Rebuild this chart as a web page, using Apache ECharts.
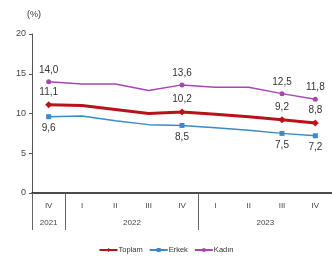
<!DOCTYPE html>
<html>
<head>
<meta charset="utf-8">
<script src="https://cdn.jsdelivr.net/npm/echarts@6/dist/echarts.min.js"></script>
<style>
  html, body { margin: 0; padding: 0; background: #fff; }
  #chart { width: 332px; height: 260px; }
</style>
</head>
<body>
<div id="chart"></div>
<script>
// quarters and years
var quarters = ["IV", "I", "II", "III", "IV", "I", "II", "III", "IV"];
var years = ["2021", "2022", "2023"];
var yearCenters = [0.5, 3, 7];
var yearBounds = [0, 1, 5, 9];

// series values (%)
var toplam = [11.1, 11.0, 10.5, 10.0, 10.2, 9.9, 9.6, 9.2, 8.8];
var erkek = [9.6, 9.7, 9.1, 8.6, 8.5, 8.2, 7.9, 7.5, 7.2];
var kadin = [14.0, 13.7, 13.7, 12.9, 13.6, 13.3, 13.3, 12.5, 11.8];

// points that carry a marker and a label
var marked = [0, 4, 7, 8];

var font = "'Liberation Sans Narrow', 'Liberation Sans', Arial, sans-serif";

function comma(v) {
  return v.toFixed(1).replace(".", ",");
}

function buildData(vals) {
  return vals.map(function (v, i) {
    var on = marked.indexOf(i) >= 0;
    return {
      value: v,
      symbolSize: on ? undefined : 0,
      label: { show: on }
    };
  });
}

function makeSeries(name, vals, color, symbol, size, width, pos) {
  return {
    name: name,
    type: "line",
    data: buildData(vals),
    symbol: symbol,
    symbolSize: size,
    showAllSymbol: true,
    color: color,
    lineStyle: { color: color, width: width },
    itemStyle: { color: color },
    label: {
      position: pos,
      distance: 4,
      color: "#333",
      fontSize: 10,
      fontFamily: font,
      formatter: function (p) { return comma(p.value); }
    },
    animation: false
  };
}

var chart = echarts.init(document.getElementById("chart"));
chart.setOption({
  backgroundColor: "#fff",
  grid: { left: 32, right: 0, top: 34, bottom: 67 },
  graphic: [{
    type: "text", left: 27, top: 10,
    style: { text: "(%)", fontSize: 9, fill: "#333", fontFamily: font }
  }],
  legend: {
    bottom: 1,
    left: "center",
    itemWidth: 18,
    itemHeight: 5,
    itemGap: 6,
    textStyle: { fontSize: 7.5, color: "#333", fontFamily: font, padding: [0, 0, 0, -4] },
    data: ["Toplam", "Erkek", "Kadın"]
  },
  xAxis: [{
    type: "category",
    data: quarters,
    boundaryGap: true,
    axisLine: { lineStyle: { color: "#111", width: 1.5 } },
    axisTick: { show: false },
    axisLabel: { color: "#444", fontSize: 8, fontFamily: font, margin: 9 }
  }, {
    type: "value",
    min: 0,
    max: 9,
    position: "bottom",
    axisLine: { show: false },
    splitLine: { show: false },
    axisTick: { show: true, length: 37, customValues: yearBounds, lineStyle: { color: "#666", width: 1 } },
    axisLabel: {
      customValues: yearCenters,
      color: "#444", fontSize: 8, fontFamily: font, margin: 26,
      formatter: function (v) { return years[yearCenters.indexOf(v)]; }
    }
  }],
  yAxis: {
    type: "value",
    min: 0,
    max: 20,
    interval: 5,
    axisLine: { show: true, lineStyle: { color: "#555", width: 1 } },
    axisTick: { show: true, length: 3, lineStyle: { color: "#555" } },
    splitLine: { show: false },
    axisLabel: { color: "#444", fontSize: 9, fontFamily: font, margin: 6 }
  },
  series: [
    makeSeries("Toplam", toplam, "#B8121B", "diamond", 7, 3, "top"),
    makeSeries("Erkek", erkek, "#3A8AC6", "rect", 5, 1.5, "bottom"),
    makeSeries("Kadın", kadin, "#A746B2", "circle", 5, 1.5, "top")
  ]
});
</script>
</body>
</html>
